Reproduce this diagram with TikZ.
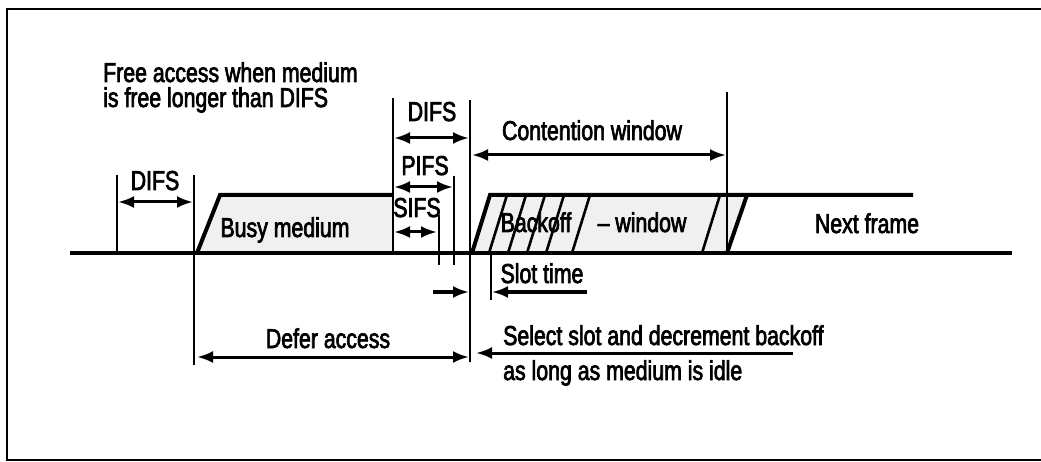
\documentclass[tikz,border=0pt]{standalone}
\usepackage{fontspec}
\setmainfont{Liberation Sans}[FakeStretch=0.78,FakeBold=2.5]
\usetikzlibrary{arrows.meta}
\begin{document}
\begin{tikzpicture}[x=1pt,y=-1pt,
  lbl/.style={font=\fontsize{27.3}{29}\selectfont, inner sep=0pt, anchor=base},
  dimarrow/.style={line width=3pt, {Latex[length=16pt,width=12pt]}-{Latex[length=16pt,width=12pt]}},
  onearrow/.style={line width=3pt, -{Latex[length=16pt,width=12pt]}},
  tick/.style={line width=2.6pt},
  edge/.style={line width=4pt, line join=miter},
  hatch/.style={line width=2.6pt},
  shade/.style={fill=black!6, draw=none}]
\useasboundingbox (0,0) rectangle (1041,462);
% frame (right edge lies outside the picture)
\draw[line width=2.6pt] (1045,9) -- (7,9) -- (7,460) -- (1045,460);
% time points on the medium line
\coordinate (m0) at (70,253);
\coordinate (m1) at (1012,253);
\coordinate (tA) at (117,253);
\coordinate (tB) at (194,253);
\coordinate (tC) at (393,253);
\coordinate (tS) at (439,253);
\coordinate (tP) at (454,253);
\coordinate (tD) at (470,253);
\coordinate (tSl) at (491,253);
\coordinate (tW) at (727,253);
% shaded areas
\fill[shade] (197,253) -- (220,195) -- (393,195) -- (393,253) -- cycle;
\fill[shade] (472,253) -- (490,195) -- (747,195) -- (727,253) -- cycle;
% hatch lines
\foreach \x in {489,508,527,546,572,702} \draw[hatch] (\x,253) -- (\x+18,195);
% busy medium outline
\draw[edge] (197,253) -- (220,195) -- (393,195);
% backoff / next frame outline
\draw[edge] (472,253) -- (490,195) -- (913,195);
\draw[edge] (727,253) -- (747,195);
% medium line
\draw[edge] (m0) -- (m1);
% vertical ticks
\draw[tick] (tA) -- (117,175);
\draw[tick] (194,175) -- (194,365);
\draw[tick] (393,98) -- (tC);
\draw[tick] (470,100) -- (470,362);
\draw[tick] (454,176) -- (454,265);
\draw[tick] (439,215) -- (439,265);
\draw[tick] (727,92) -- (tW);
\draw[tick] (tSl) -- (491,300);
% coordinates for arrows
\coordinate (a1l) at (118,202); \coordinate (a1r) at (193,202);
\coordinate (a2l) at (394,138); \coordinate (a2r) at (469,138);
\coordinate (a3l) at (394,187); \coordinate (a3r) at (453,187);
\coordinate (a4l) at (394,232); \coordinate (a4r) at (437,232);
\coordinate (a5l) at (472,155); \coordinate (a5r) at (726,155);
\coordinate (s1) at (433,292); \coordinate (s1e) at (469,292);
\coordinate (s2) at (587,292); \coordinate (s2e) at (492,292);
\coordinate (d1) at (197,357); \coordinate (d2) at (469,357);
\coordinate (e1) at (793,353); \coordinate (e2) at (476,353);
% dimension arrows
\draw[dimarrow] (a1l) -- (a1r);
\draw[dimarrow] (a2l) -- (a2r);
\draw[dimarrow] (a3l) -- (a3r);
\draw[dimarrow] (a4l) -- (a4r);
\draw[dimarrow] (a5l) -- (a5r);
\draw[onearrow] (s1) -- (s1e);
\draw[onearrow] (s2) -- (s2e);
\draw[dimarrow] (d1) -- (d2);
\draw[onearrow] (e1) -- (e2);
% labels
\node[lbl, anchor=base west] (free1) at (103,82) {Free access when medium};
\node[lbl, anchor=base west] (free2) at (103,107) {is free longer than DIFS};
\node[lbl] (difsL) at (155,190) {DIFS};
\node[lbl] (busy) at (285,237) {Busy medium};
\node[lbl] (difsM) at (432,121) {DIFS};
\node[lbl] (pifs) at (425,175) {PIFS};
\node[lbl] (sifs) at (417,217) {SIFS};
\node[lbl] (cw) at (592,140) {Contention window};
\node[lbl] (backoff) at (536,232) {Backoff};
\node[lbl] (window) at (642,232) {– window};
\node[lbl] (next) at (867,233) {Next frame};
\node[lbl] (slot) at (542,283) {Slot time};
\node[lbl] (defer) at (328,348) {Defer access};
\node[lbl, anchor=base west] (sel1) at (503,345) {Select slot and decrement backoff};
\node[lbl, anchor=base west] (sel2) at (503,380) {as long as medium is idle};
\end{tikzpicture}
\end{document}
